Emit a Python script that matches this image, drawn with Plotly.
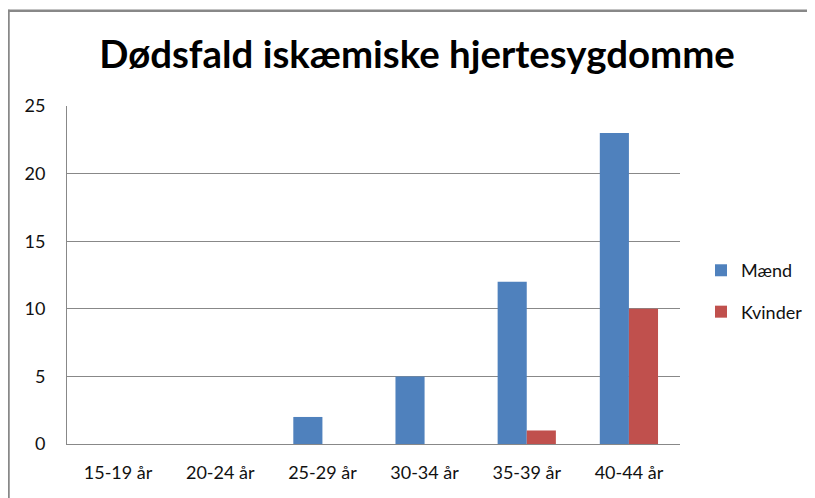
import plotly.graph_objects as go

categories = ["15-19 år", "20-24 år", "25-29 år", "30-34 år", "35-39 år", "40-44 år"]
maend = [0, 0, 2, 5, 12, 23]
kvinder = [0, 0, 0, 0, 1, 10]
title_text = "Dødsfald iskæmiske hjertesygdomme"

# page body has an 8px margin; figure coordinates are screen - 8
W, H = 807, 490
L, T = 59, 97.5
pw, ph = 613, 339
R, B = W - L - pw, H - T - ph

fig = go.Figure()
fig.add_trace(go.Bar(x=categories, y=maend, name="Mænd", legendgroup="m",
                     marker=dict(color="#4F81BD", line=dict(width=0))))
fig.add_trace(go.Bar(x=categories, y=kvinder, name="Kvinder", legendgroup="k",
                     marker=dict(color="#C0504D", line=dict(width=0))))

fx = lambda px: (px - L) / pw
fy = lambda py: 1 - (py - T) / ph

FONT = "Lato, Open Sans, sans-serif"
fig.update_layout(
    width=W, height=H,
    margin=dict(l=L, r=R, t=T, b=B, autoexpand=False),
    paper_bgcolor="white", plot_bgcolor="white",
    barmode="group", bargap=0.43, bargroupgap=0,
    font=dict(family=FONT, size=18, color="#111"),
    title=dict(text="<b>" + title_text + "</b>", x=409 / W, xanchor="center", xref="container",
               y=1 - 47 / H, yanchor="middle",
               font=dict(size=38.4, color="#000", family=FONT)),
    xaxis=dict(showline=True, linecolor="#888", linewidth=1, ticks="", showgrid=False,
               tickfont=dict(size=18), ticklabelstandoff=12),
    yaxis=dict(range=[0, 25], dtick=5, showline=True, linecolor="#888", linewidth=1,
               gridcolor="#888", gridwidth=1, ticks="", zeroline=False,
               tickfont=dict(size=18), ticklabelstandoff=17),
    legend=dict(x=fx(693), y=fy(244), xanchor="left", yanchor="top",
                font=dict(size=18), tracegroupgap=15, traceorder="grouped",
                bgcolor="rgba(0,0,0,0)"),
    showlegend=True,
    shapes=[
        dict(type="line", xref="paper", yref="paper", x0=fx(0), x1=fx(820), y0=fy(2), y1=fy(2),
             line=dict(color="#888", width=2.5)),
        dict(type="line", xref="paper", yref="paper", x0=fx(0.5), x1=fx(0.5), y0=fy(1), y1=fy(500),
             line=dict(color="#888", width=2.5)),
    ],
)

fig.write_html("out.html")
